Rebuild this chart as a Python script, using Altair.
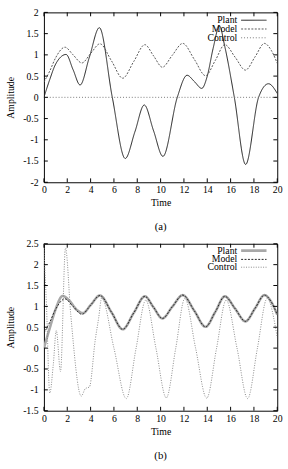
import altair as alt
import pandas as pd

# ---------------- data ----------------
# Model response (same reference model in both panels)
model_t = [0, 0.5, 1.0, 1.8, 2.5, 3.25, 4.0, 4.8, 5.8, 6.75, 7.7, 8.65, 9.4, 10.15,
           11.0, 11.9, 12.9, 13.85, 14.7, 15.5, 16.4, 17.27, 18.1, 18.9, 19.5, 20]
model_v = [0.36, 0.62, 0.93, 1.18, 1.0, 0.81, 1.03, 1.26, 0.855, 0.45, 0.845, 1.24, 0.975, 0.71,
           0.99, 1.27, 0.89, 0.51, 0.875, 1.24, 0.94, 0.64, 0.955, 1.27, 1.1, 0.8]

# Panel (a) plant
plant_a_t = [0, 0.5, 1.0, 1.9, 2.5, 3.1, 3.9, 4.75, 5.86, 6.97, 7.8, 8.6, 9.4, 10.2,
             11.43, 12.27, 12.9, 13.53, 14.0, 14.5, 15.05, 15.5, 16.32, 17.29, 18.4,
             19.25, 20]
plant_a_v = [0, 0.42, 0.78, 1.01, 0.65, 0.29, 0.95, 1.64, 0.0, -1.44, -0.81, -0.18, -0.79, -1.39,
             0.0, 0.52, 0.37, 0.21, 0.5, 1.15, 1.68, 1.2, 0.0, -1.58, 0.0,
             0.32, 0.09]

# Panel (a) control
control_a_t = [0, 20]
control_a_v = [0, 0]

# Panel (b) plant
plant_b_t = [0, 0.5, 1.0, 1.6, 2.2, 2.8, 3.35, 4.0, 4.8, 5.8, 6.75, 7.7, 8.65, 9.4, 10.15,
             11.0, 11.9, 12.9, 13.85, 14.7, 15.5, 16.4, 17.27, 18.1, 18.9, 19.5, 20]
plant_b_v = [0, 0.48, 0.93, 1.25, 1.13, 0.92, 0.84, 1.03, 1.26, 0.855, 0.45, 0.845, 1.24, 0.975, 0.71,
             0.99, 1.27, 0.89, 0.51, 0.875, 1.24, 0.94, 0.64, 0.955, 1.27, 1.1, 0.8]

# Panel (b) control
control_b_t = [0, 0.22, 0.5, 0.8, 1.06, 1.42, 1.85, 2.3, 3.2, 3.55, 3.9, 4.4, 4.69, 4.95,
               6.0, 7.06, 7.9, 8.73, 9.6, 10.49, 11.3, 12.08, 13.0, 13.95, 14.8, 15.62,
               16.55, 17.46, 18.3, 19.13, 20]
control_b_v = [2.4, 1.0, -1.08, -0.4, 0.42, -0.56, 2.4, 0.8, -1.15, -0.97, -0.93, 0.2, 0.72, 1.2,
               0.0, -1.21, 0.0, 1.15, 0.0, -1.19, 0.0, 1.19, 0.0, -1.2, 0.0, 1.15,
               0.0, -1.21, 0.0, 1.19, 0.25]

series_names = ["Plant", "Model", "Control"]
x_ticks = [0, 2, 4, 6, 8, 10, 12, 14, 16, 18, 20]
y_ticks_a = [-2, -1.5, -1, -0.5, 0, 0.5, 1, 1.5, 2]
y_ticks_b = [-1.5, -1, -0.5, 0, 0.5, 1, 1.5, 2, 2.5]

# ---------------- styling ----------------
FONT = "Liberation Serif"
W = 239

styles_a = {
    "Plant": dict(color="#222222", strokeWidth=1.0, strokeDash=[1, 0]),
    "Model": dict(color="#555555", strokeWidth=1.0, strokeDash=[2, 1.5]),
    "Control": dict(color="#777777", strokeWidth=1.0, strokeDash=[1, 2]),
}
styles_b = {
    "Plant": dict(color="#a8a8a8", strokeWidth=2.6, strokeDash=[1, 0]),
    "Model": dict(color="#222222", strokeWidth=1.0, strokeDash=[2, 1.5]),
    "Control": dict(color="#888888", strokeWidth=1.0, strokeDash=[1, 1.5]),
}


def panel(series, styles, ydom, yticks, H, legend_ys, label):
    xs = alt.Scale(domain=[0, 20], nice=False, zero=False)
    ys = alt.Scale(domain=ydom, nice=False, zero=False)
    xax = alt.Axis(values=x_ticks, tickSize=0, domain=False, grid=False,
                   labelPadding=3, titlePadding=3, labelOverlap=False,
                   labelFlush=False, labelExpr="toString(datum.value)")
    yax = alt.Axis(values=yticks, tickSize=0, domain=False, grid=False,
                   labelPadding=6, titlePadding=7, labelOverlap=False,
                   labelFlush=False, labelExpr="toString(datum.value)")

    def X():
        return alt.X("t:Q", scale=xs, title="Time", axis=xax)

    def Y():
        return alt.Y("v:Q", scale=ys, title="Amplitude", axis=yax)

    layers = []
    for name in series_names:
        t, v = series[name]
        df = pd.DataFrame({"t": t, "v": v})
        st = styles[name]
        layers.append(
            alt.Chart(df).mark_line(interpolate="monotone", clip=True, **st).encode(x=X(), y=Y())
        )
    # inward ticks (gnuplot style, on all four sides)
    dx = pd.DataFrame({"t": x_ticks})
    dy = pd.DataFrame({"v": yticks})
    tick_style = dict(color="#000000", strokeWidth=1)
    layers.append(alt.Chart(dx).mark_rule(**tick_style).encode(
        x=X(), y=alt.value(H), y2=alt.value(H - 4)))
    layers.append(alt.Chart(dx).mark_rule(**tick_style).encode(
        x=X(), y=alt.value(0), y2=alt.value(4)))
    layers.append(alt.Chart(dy).mark_rule(**tick_style).encode(
        y=Y(), x=alt.value(0), x2=alt.value(4)))
    layers.append(alt.Chart(dy).mark_rule(**tick_style).encode(
        y=Y(), x=alt.value(W), x2=alt.value(W - 4)))
    # key (label then line sample, as gnuplot draws it)
    for name, ly in zip(series_names, legend_ys):
        st = styles[name]
        layers.append(alt.Chart(pd.DataFrame({"label": [name]})).mark_text(
            align="right", baseline="middle", font=FONT, fontSize=10, color="#000000").encode(
            x=alt.value(198), y=alt.value(ly), text="label:N"))
        layers.append(alt.Chart(pd.DataFrame({"label": [name]})).mark_rule(**st).encode(
            x=alt.value(202), x2=alt.value(228), y=alt.value(ly)))
    return alt.layer(*layers).properties(
        width=W, height=H,
        title=alt.TitleParams(label, orient="bottom", anchor="middle", font=FONT,
                              fontSize=11, fontWeight="normal", offset=14, color="#000000"),
    )


top = panel({"Plant": (plant_a_t, plant_a_v), "Model": (model_t, model_v),
             "Control": (control_a_t, control_a_v)},
            styles_a, [-2, 2], y_ticks_a, 174, [8, 17, 26], "(a)")
bottom = panel({"Plant": (plant_b_t, plant_b_v), "Model": (model_t, model_v),
                "Control": (control_b_t, control_b_v)},
               styles_b, [-1.5, 2.5], y_ticks_b, 171, [7, 16, 24], "(b)")

chart = alt.vconcat(top, bottom, spacing=5).properties(
    padding={"left": 5, "top": 1, "right": 5, "bottom": 2},
    background="white",
).configure_view(stroke="#000000", strokeWidth=1).configure_axis(
    labelFont=FONT, labelFontSize=10, labelColor="#000000", labelOverlap=False,
    titleFont=FONT, titleFontSize=10, titleFontWeight="normal", titleColor="#000000",
)

chart.save("out.html", embed_options={"renderer": "svg", "actions": False})
